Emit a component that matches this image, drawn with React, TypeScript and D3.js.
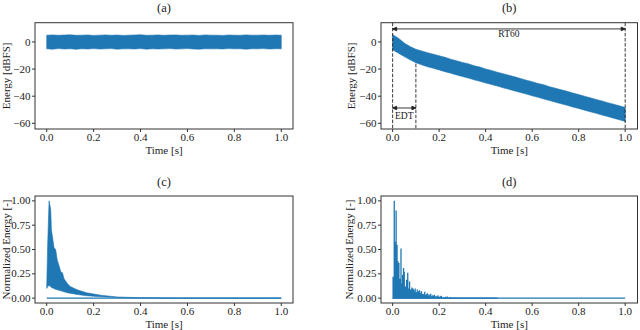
import React from "react";
import * as d3 from "d3";

const blue = "#1f77b4";
const ink = "#222";
const font = "'Liberation Serif', 'Times New Roman', serif";

const timeTicks = [0, 0.2, 0.4, 0.6, 0.8, 1.0];
const dbTicks = [0, -20, -40, -60];
const normTicks = [0, 0.25, 0.5, 0.75, 1.0];

// shared time grid for the two dB envelopes
const envTime = [
  0, 0.025, 0.05, 0.075, 0.1, 0.125, 0.15, 0.175, 0.2, 0.225, 0.25, 0.275, 0.3, 0.325,
  0.35, 0.375, 0.4, 0.425, 0.45, 0.475, 0.5, 0.525, 0.55, 0.575, 0.6, 0.625, 0.65,
  0.675, 0.7, 0.725, 0.75, 0.775, 0.8, 0.825, 0.85, 0.875, 0.9, 0.925, 0.95, 0.975, 1.0,
];

// (a) noise, upper / lower envelope in dBFS
const noiseUpper = [
  5.0, 5.2, 4.9, 5.1, 5.3, 4.9, 5.0, 5.2, 4.8, 5.0, 5.2, 4.9, 5.1, 4.8, 5.0, 5.1, 5.3,
  4.9, 5.0, 5.2, 4.9, 5.1, 5.2, 4.9, 5.0, 5.1, 4.8, 5.2, 5.0, 5.0, 4.8, 5.1, 5.0, 4.9,
  5.2, 5.0, 5.0, 5.1, 4.9, 5.1, 5.0,
];
const noiseLower = [
  -5.1, -5.3, -4.9, -5.2, -5.0, -5.4, -5.0, -5.2, -4.9, -5.2, -5.1, -4.9, -5.3, -5.1,
  -5.0, -5.2, -4.9, -5.3, -5.0, -5.2, -5.1, -4.9, -5.2, -5.1, -4.9, -5.2, -5.3, -5.0,
  -5.1, -5.0, -5.2, -4.9, -5.1, -5.0, -5.3, -5.0, -5.1, -4.9, -5.2, -5.0, -5.1,
];

// (b) decay, upper / lower envelope in dBFS
const decayUpper = [
  5.4, 2.8, -0.8, -3.4, -5.4, -6.6, -7.9, -9.0, -10.2, -11.3, -12.7, -13.9, -15.1,
  -16.1, -17.5, -18.5, -19.9, -21.0, -22.3, -23.4, -24.6, -25.7, -27.0, -28.2, -29.3,
  -30.6, -31.6, -33.0, -34.1, -35.3, -36.4, -37.7, -38.8, -40.0, -41.2, -42.4, -43.5,
  -44.8, -45.9, -47.1, -48.3,
];
const decayLower = [
  -5.8, -8.3, -10.8, -13.2, -15.3, -16.9, -18.3, -19.4, -20.6, -21.9, -23.0, -24.3,
  -25.5, -26.6, -27.9, -29.0, -30.2, -31.4, -32.5, -33.8, -34.9, -36.1, -37.3, -38.4,
  -39.7, -40.8, -42.1, -43.2, -44.4, -45.6, -46.7, -48.0, -49.1, -50.3, -51.5, -52.6,
  -53.9, -55.0, -56.2, -57.4, -58.6,
];

// (b) annotations
const rt60Span = [0, 1.0];
const rt60Level = 9.6;
const edtSpan = [0, 0.1];
const edtLevel = -48.7;
const edtMarkTop = -16;

// (c) dense normalized energy, envelope
const denseTime = [
  0, 0.004, 0.01, 0.017, 0.02, 0.024, 0.031, 0.038, 0.045, 0.053, 0.06, 0.067, 0.074,
  0.088, 0.1, 0.13, 0.17, 0.23, 0.3, 0.4, 0.55, 1.0,
];
const denseUpper = [
  0.12, 0.55, 1.0, 0.91, 0.7, 0.64, 0.52, 0.5, 0.39, 0.33, 0.27, 0.26, 0.2, 0.15, 0.12,
  0.085, 0.055, 0.03, 0.012, 0.004, 0.001, 0,
];
const denseLower = [
  0.1, 0.12, 0.13, 0.12, 0.11, 0.105, 0.1, 0.09, 0.085, 0.08, 0.075, 0.07, 0.065, 0.055,
  0.05, 0.038, 0.025, 0.014, 0.007, 0.002, 0, 0,
];

// (d) sparse normalized energy, individual reflections
const spikeTime = [
  0.002, 0.004, 0.007, 0.009, 0.012, 0.015, 0.017, 0.019, 0.021, 0.023, 0.025, 0.027,
  0.029, 0.031, 0.034, 0.036, 0.038, 0.04, 0.043, 0.045, 0.047, 0.05, 0.052, 0.055,
  0.058, 0.06, 0.063, 0.065, 0.068, 0.07, 0.073, 0.076, 0.078, 0.081, 0.083, 0.086,
  0.088, 0.091, 0.094, 0.097, 0.101, 0.104, 0.106, 0.109, 0.111, 0.114, 0.116, 0.119,
  0.121, 0.124, 0.126, 0.13, 0.133, 0.138, 0.142, 0.145, 0.149, 0.152, 0.156, 0.16,
  0.164, 0.168, 0.172, 0.175, 0.18, 0.185, 0.19, 0.195, 0.2, 0.205, 0.21, 0.22, 0.228,
  0.235, 0.243, 0.25, 0.265, 0.28, 0.3, 0.33, 0.36, 0.4, 0.45,
];
const spikeHeight = [
  0.22, 0.12, 1.0, 0.3, 0.58, 0.9, 0.2, 0.55, 0.15, 0.38, 0.22, 0.36, 0.12, 0.2, 0.14,
  0.51, 0.1, 0.15, 0.24, 0.13, 0.31, 0.27, 0.1, 0.12, 0.09, 0.19, 0.08, 0.26, 0.09,
  0.1, 0.17, 0.06, 0.09, 0.05, 0.11, 0.06, 0.1, 0.08, 0.05, 0.1, 0.06, 0.04, 0.09,
  0.05, 0.07, 0.04, 0.08, 0.03, 0.05, 0.07, 0.03, 0.045, 0.04, 0.065, 0.03, 0.04,
  0.05, 0.025, 0.04, 0.03, 0.045, 0.02, 0.03, 0.025, 0.035, 0.02, 0.02, 0.03, 0.015,
  0.02, 0.025, 0.012, 0.015, 0.018, 0.01, 0.012, 0.008, 0.01, 0.006, 0.006, 0.004,
  0.003, 0.002,
];

type Box = { x0: number; x1: number; y0: number; y1: number };

function Panel({
  box,
  xDomain,
  yDomain,
  yTicks,
  yFormat,
  yLabel,
  yLabelX,
  title,
  children,
}: {
  box: Box;
  xDomain: [number, number];
  yDomain: [number, number];
  yTicks: number[];
  yFormat: (v: number) => string;
  yLabel: string;
  yLabelX: number;
  title: string;
  children: (x: d3.ScaleLinear<number, number>, y: d3.ScaleLinear<number, number>) => React.ReactNode;
}) {
  const x = d3.scaleLinear().domain(xDomain).range([box.x0, box.x1]);
  const y = d3.scaleLinear().domain(yDomain).range([box.y1, box.y0]);
  const midX = (box.x0 + box.x1) / 2;
  const midY = (box.y0 + box.y1) / 2;
  return (
    <g>
      <text x={midX} y={box.y0 - 10.5} textAnchor="middle" fontSize={12.5} fill={ink}>
        {title}
      </text>
      {children(x, y)}
      <rect
        x={box.x0}
        y={box.y0}
        width={box.x1 - box.x0}
        height={box.y1 - box.y0}
        fill="none"
        stroke="#333"
        strokeWidth={1}
      />
      {timeTicks.map((t) => (
        <g key={t}>
          <line x1={x(t)} x2={x(t)} y1={box.y1} y2={box.y1 + 3} stroke="#333" />
          <text x={x(t)} y={box.y1 + 12.3} textAnchor="middle" fontSize={11} fill={ink}>
            {t.toFixed(1)}
          </text>
        </g>
      ))}
      {yTicks.map((v) => (
        <g key={v}>
          <line x1={box.x0 - 3} x2={box.x0} y1={y(v)} y2={y(v)} stroke="#333" />
          <text x={box.x0 - 4.5} y={y(v)} dy="0.33em" textAnchor="end" fontSize={11} fill={ink}>
            {yFormat(v)}
          </text>
        </g>
      ))}
      <text x={midX} y={box.y1 + 25} textAnchor="middle" fontSize={11} fill={ink}>
        Time [s]
      </text>
      <text
        transform={`translate(${yLabelX},${midY}) rotate(-90)`}
        textAnchor="middle"
        dy="0.35em"
        fontSize={11}
        fill={ink}
      >
        {yLabel}
      </text>
    </g>
  );
}

function Arrow({ x1, x2, y }: { x1: number; x2: number; y: number }) {
  const h = 4;
  const w = 1.8;
  return (
    <g stroke={ink} strokeWidth={0.9} fill={ink}>
      <line x1={x1} x2={x2} y1={y} y2={y} />
      <path d={`M${x1},${y} L${x1 + h},${y - w} L${x1 + h},${y + w} Z`} />
      <path d={`M${x2},${y} L${x2 - h},${y - w} L${x2 - h},${y + w} Z`} />
    </g>
  );
}

const fmtDb = (v: number) => (v < 0 ? "\u2212" + Math.abs(v) : String(v));
const fmtNorm = (v: number) => v.toFixed(2);

function App() {
  const boxA: Box = { x0: 35, x1: 293, y0: 22.7, y1: 129 };
  const boxB: Box = { x0: 381, x1: 637.5, y0: 22.7, y1: 129 };
  const boxC: Box = { x0: 35, x1: 293, y0: 196, y1: 303 };
  const boxD: Box = { x0: 381, x1: 637.5, y0: 196, y1: 303 };
  const xDom: [number, number] = [-0.05, 1.05];
  const dbDom: [number, number] = [-64.2, 14.2];
  const normDom: [number, number] = [-0.05, 1.05];

  const band = (
    x: d3.ScaleLinear<number, number>,
    y: d3.ScaleLinear<number, number>,
    time: number[],
    lo: number[],
    hi: number[]
  ) =>
    d3
      .area<number>()
      .x((t) => x(t))
      .y0((_, i) => y(lo[i]))
      .y1((_, i) => y(hi[i]))(time) || "";

  return (
    <svg
      width={640}
      height={330}
      style={{ position: "absolute", left: 0, top: 0, background: "#fff", fontFamily: font }}
    >
      <Panel
        box={boxA}
        xDomain={xDom}
        yDomain={dbDom}
        yTicks={dbTicks}
        yFormat={fmtDb}
        yLabel="Energy [dBFS]"
        yLabelX={6}
        title="(a)"
      >
        {(x, y) => (
          <path
            d={band(x, y, envTime, noiseLower, noiseUpper)}
            fill={blue}
            stroke={blue}
            strokeWidth={0.6}
          />
        )}
      </Panel>

      <Panel
        box={boxB}
        xDomain={[-0.05, 1.053]}
        yDomain={dbDom}
        yTicks={dbTicks}
        yFormat={fmtDb}
        yLabel="Energy [dBFS]"
        yLabelX={351.5}
        title="(b)"
      >
        {(x, y) => (
          <g>
            <path
              d={band(x, y, envTime, decayLower, decayUpper)}
              fill={blue}
              stroke={blue}
              strokeWidth={0.6}
            />
            <g stroke={ink} strokeWidth={0.9} strokeDasharray="3.5,1.6">
              <line x1={x(rt60Span[0])} x2={x(rt60Span[0])} y1={boxB.y0} y2={boxB.y1} />
              <line x1={x(rt60Span[1])} x2={x(rt60Span[1])} y1={boxB.y0} y2={boxB.y1} />
              <line x1={x(edtSpan[1])} x2={x(edtSpan[1])} y1={y(edtMarkTop)} y2={boxB.y1} />
            </g>
            <Arrow x1={x(rt60Span[0])} x2={x(rt60Span[1])} y={y(rt60Level)} />
            <Arrow x1={x(edtSpan[0])} x2={x(edtSpan[1])} y={y(edtLevel)} />
            <text
              x={x((rt60Span[0] + rt60Span[1]) / 2)}
              y={y(rt60Level) + 8}
              textAnchor="middle"
              fontSize={9.5}
              fill={ink}
            >
              RT60
            </text>
            <text
              x={x((edtSpan[0] + edtSpan[1]) / 2)}
              y={y(edtLevel) + 11}
              textAnchor="middle"
              fontSize={9.5}
              fill={ink}
            >
              EDT
            </text>
          </g>
        )}
      </Panel>

      <Panel
        box={boxC}
        xDomain={xDom}
        yDomain={normDom}
        yTicks={normTicks}
        yFormat={fmtNorm}
        yLabel="Normalized Energy [-]"
        yLabelX={6}
        title="(c)"
      >
        {(x, y) => (
          <g>
            <line x1={x(0)} x2={x(1)} y1={y(0)} y2={y(0)} stroke={blue} strokeWidth={1.3} />
            <path
              d={band(x, y, denseTime, denseLower, denseUpper)}
              fill={blue}
              stroke={blue}
              strokeWidth={0.6}
            />
          </g>
        )}
      </Panel>

      <Panel
        box={boxD}
        xDomain={[-0.05, 1.053]}
        yDomain={normDom}
        yTicks={normTicks}
        yFormat={fmtNorm}
        yLabel="Normalized Energy [-]"
        yLabelX={349.5}
        title="(d)"
      >
        {(x, y) => (
          <g>
            <line x1={x(0)} x2={x(1)} y1={y(0)} y2={y(0)} stroke={blue} strokeWidth={1.3} />
            <path
              d={
                d3
                  .line<[number, number]>()
                  .x((p) => x(p[0]))
                  .y((p) => y(p[1]))(
                  spikeTime.flatMap((t, i) => [
                    [t, 0],
                    [t, spikeHeight[i]],
                    [t, 0],
                  ] as [number, number][])
                ) || ""
              }
              fill="none"
              stroke={blue}
              strokeWidth={1.3}
            />
          </g>
        )}
      </Panel>
    </svg>
  );
}

export default App;
